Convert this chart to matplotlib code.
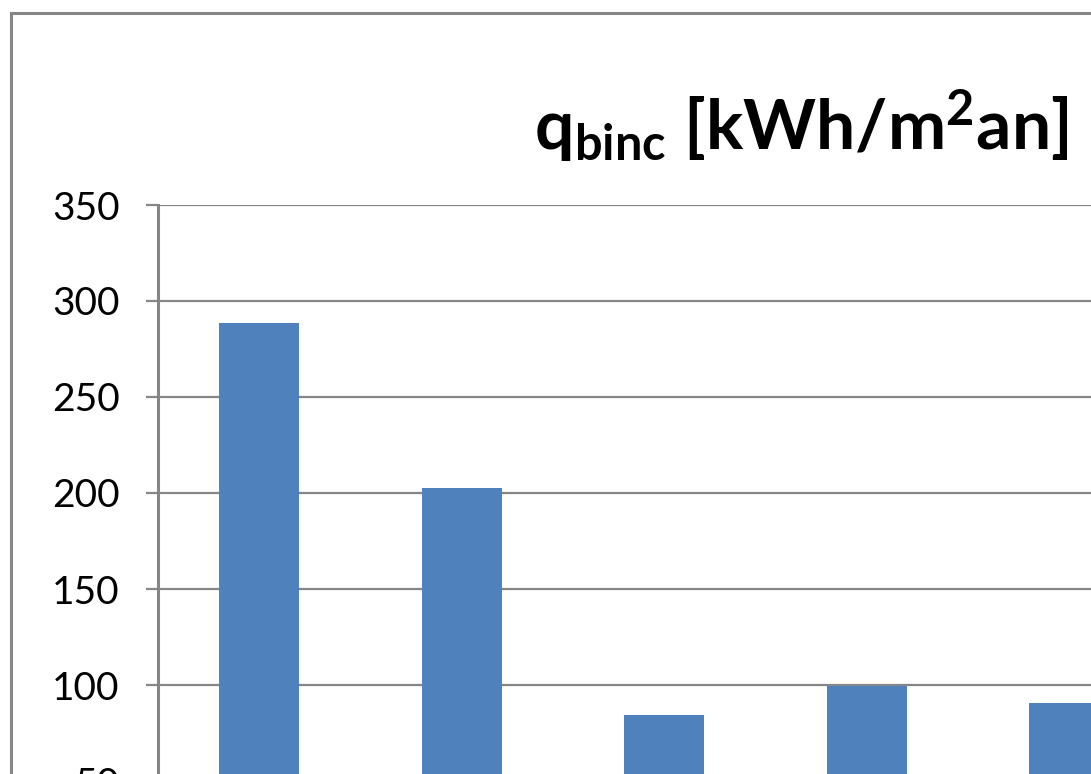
import numpy as np
import matplotlib.pyplot as plt
from matplotlib.patches import Rectangle

# valori
categorii = ['1', '2', '3', '4', '5']
q_binc = [288.5, 202.6, 84.4, 99.5, 90.6]
yticks = [50, 100, 150, 200, 250, 300, 350]

W, H = 1091, 774
plt.rcParams['font.family'] = ['Lato', 'DejaVu Sans']
plt.rcParams['mathtext.default'] = 'regular'

fig = plt.figure(figsize=(W / 100, H / 100), dpi=100)

# axa: 0 la y=877 px, 350 la y=205 px, 202.5 px pe categorie
left, top = 158, 205
ax = fig.add_axes([left / W, 1 - 877 / H, 5 * 202.5 / W, 672 / H])

x = np.arange(len(categorii))
ax.bar(x, q_binc, width=0.395, color='#4F81BD', zorder=3)

ax.set_xlim(-0.5, len(categorii) - 0.5)
ax.set_ylim(0, 350)
ax.set_yticks(yticks)
ax.set_xticks([])
ax.grid(axis='y', color='#868686', linewidth=1.6, zorder=0)
for s in ['top', 'right', 'bottom']:
    ax.spines[s].set_visible(False)
ax.spines['left'].set_color('#868686')
ax.spines['left'].set_linewidth(2.2)
ax.tick_params(axis='y', length=8.6, width=1.6, color='#868686',
               labelsize=28, pad=19)

# titlu
fig.text(1068 / W, 1 - 150 / H, r'q$_{binc}$ [kWh/m$^2$an]',
         ha='right', va='baseline', fontsize=50, fontweight='bold')

# chenarul graficului
fig.patches.append(Rectangle((11 / W, -0.2), 2, 1 - 13 / H + 0.2,
                             transform=fig.transFigure, fill=False,
                             edgecolor='#868686', linewidth=2.2))

fig.savefig('out.png', dpi=100)
